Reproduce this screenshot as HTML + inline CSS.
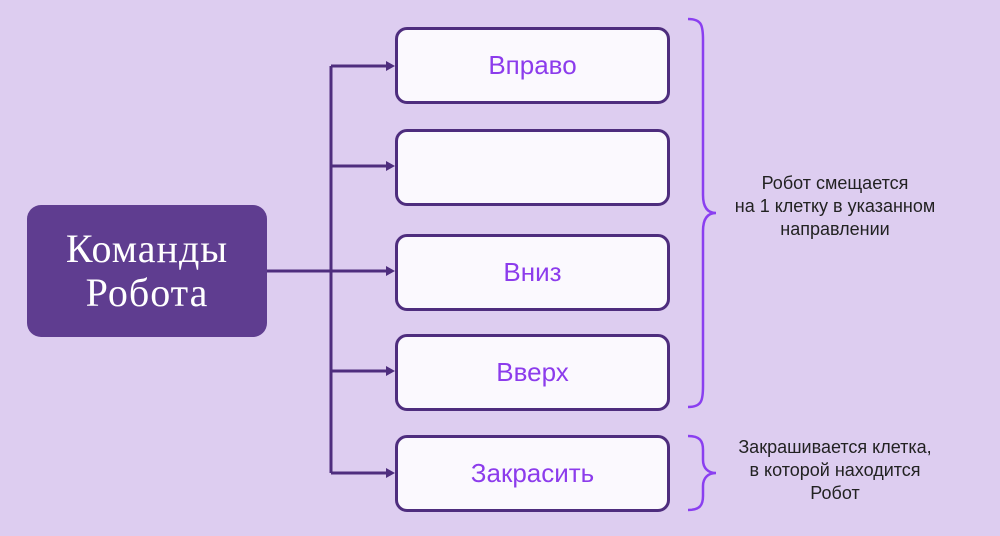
<!DOCTYPE html>
<html><head><meta charset="utf-8"><style>
body{margin:0;width:1000px;height:536px;background:#ddcdf0;position:relative;overflow:hidden;font-family:"Liberation Sans",sans-serif}
.b{position:absolute;left:395px;border:3px solid #4e2d7e;border-radius:12px;background:#fbf9fe;color:#8c3cec;font-size:26px;display:flex;align-items:center;justify-content:center;box-sizing:content-box;width:269px;height:71px}
.m{position:absolute;left:27px;top:205px;width:240px;height:132px;border-radius:14px;background:#5f3d90;color:#fff;font-family:"Liberation Serif",serif;font-size:40px;letter-spacing:1px;line-height:44px;display:flex;align-items:center;justify-content:center;text-align:center}
.t{position:absolute;color:#222;font-size:18px;line-height:23px;text-align:center}
svg{position:absolute;left:0;top:0}
</style></head><body>
<svg width="1000" height="536">
<g stroke="#4e2d7e" stroke-width="3" fill="none">
<path d="M267 271H331M331 66V473M331 66H388M331 166H388M331 271H388M331 371H388M331 473H388"/>
</g>
<g fill="#4e2d7e">
<path d="M395 66l-9-5v10zM395 166l-9-5v10zM395 271l-9-5v10zM395 371l-9-5v10zM395 473l-9-5v10z"/>
</g>
<g stroke="#8a3ff0" stroke-width="2.5" fill="none">
<path d="M688 19C702 19 703 26 703 40V195C703 208 708 213 716 213C708 213 703 218 703 231V386C703 400 702 407 688 407"/>
<path d="M688 436C700 436 703 441 703 450V460C703 468 708 473 716 473C708 473 703 478 703 486V496C703 505 700 510 688 510"/>
</g>
</svg>
<div class="m">Команды<br>Робота</div>
<div class="b" style="top:27px">Вправо</div>
<div class="b" style="top:129px"></div>
<div class="b" style="top:234px">Вниз</div>
<div class="b" style="top:334px">Вверх</div>
<div class="b" style="top:435px">Закрасить</div>
<div class="t" style="left:725px;top:172px;width:220px">Робот смещается<br>на 1 клетку в указанном<br>направлении</div>
<div class="t" style="left:730px;top:436px;width:210px">Закрашивается клетка,<br>в которой находится<br>Робот</div>
</body></html>
